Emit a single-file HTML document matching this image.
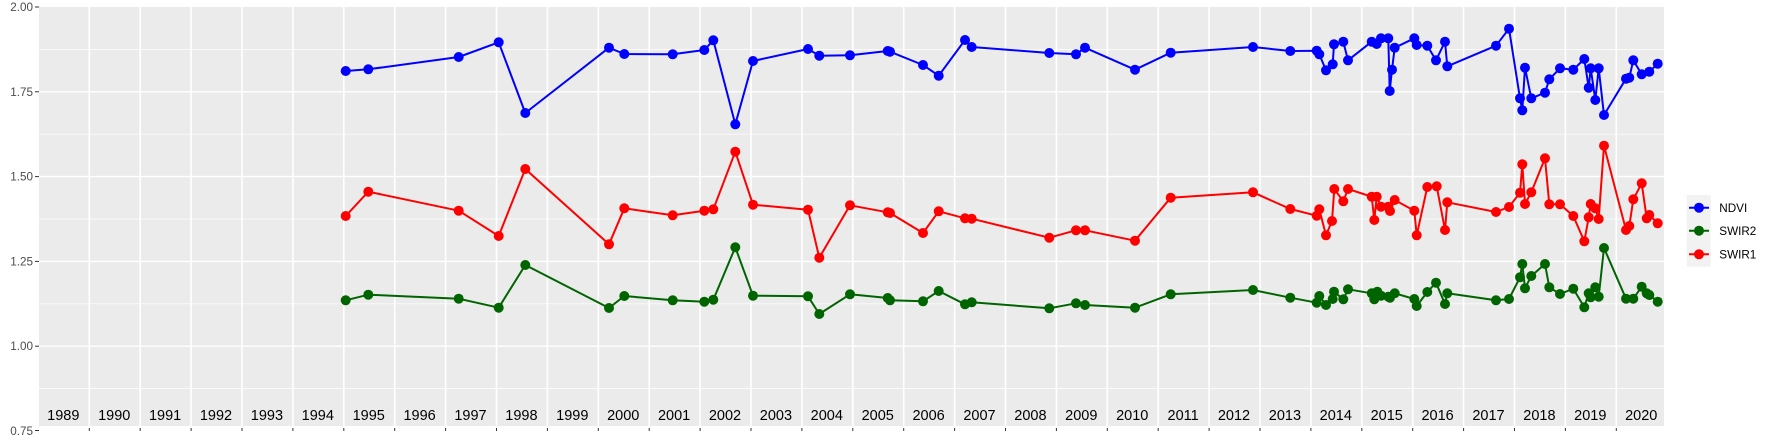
<!DOCTYPE html>
<html><head><meta charset="utf-8"><style>
html,body{margin:0;padding:0;background:#fff;}
svg{display:block;font-family:"Liberation Sans",sans-serif;}
</style></head><body>
<svg width="1773" height="442" viewBox="0 0 1773 442" xmlns="http://www.w3.org/2000/svg">
<rect x="39" y="7" width="1625" height="419" fill="#ebebeb"/>
<g stroke="#fff" stroke-width="0.7">
<line x1="39" x2="1664" y1="49.4" y2="49.4"/>
<line x1="39" x2="1664" y1="134.2" y2="134.2"/>
<line x1="39" x2="1664" y1="219" y2="219"/>
<line x1="39" x2="1664" y1="303.8" y2="303.8"/>
<line x1="39" x2="1664" y1="388.6" y2="388.6"/>
</g>
<g stroke="#fff" stroke-width="1.4">
<line x1="39" x2="1664" y1="91.8" y2="91.8"/>
<line x1="39" x2="1664" y1="176.6" y2="176.6"/>
<line x1="39" x2="1664" y1="261.4" y2="261.4"/>
<line x1="39" x2="1664" y1="346.2" y2="346.2"/>
</g>
<g id="vg" stroke="#fff" stroke-width="1.6"></g>
<g id="yl" font-size="11.7" fill="#4d4d4d" text-anchor="end">
<text x="33" y="11">2.00</text>
<text x="33" y="95.8">1.75</text>
<text x="33" y="180.6">1.50</text>
<text x="33" y="265.4">1.25</text>
<text x="33" y="350.2">1.00</text>
<text x="33" y="435">0.75</text>
</g>
<g stroke="#333" stroke-width="1">
<line x1="35" x2="39" y1="7" y2="7"/><line x1="35" x2="39" y1="91.8" y2="91.8"/><line x1="35" x2="39" y1="176.6" y2="176.6"/><line x1="35" x2="39" y1="261.4" y2="261.4"/><line x1="35" x2="39" y1="346.2" y2="346.2"/><line x1="35" x2="39" y1="430.5" y2="430.5"/>
</g>
<g id="xt" stroke="#333" stroke-width="1"></g>
<g id="yr" font-size="14.5" fill="#000" text-anchor="middle"></g>
<g id="series"></g>
<rect x="1686.7" y="195" width="24" height="71.7" fill="#f2f2f2"/>
<g stroke-width="2">
<line x1="1689" x2="1709" y1="207.7" y2="207.7" stroke="#0000ff"/>
<circle cx="1699" cy="207.7" r="5" fill="#0000ff"/>
<line x1="1689" x2="1709" y1="230.7" y2="230.7" stroke="#006400"/>
<circle cx="1699" cy="230.7" r="5" fill="#006400"/>
<line x1="1689" x2="1709" y1="254.3" y2="254.3" stroke="#ff0000"/>
<circle cx="1699" cy="254.3" r="5" fill="#ff0000"/>
</g>
<g font-size="11.7" fill="#000">
<text x="1719.3" y="211.8">NDVI</text>
<text x="1719.3" y="234.8">SWIR2</text>
<text x="1719.3" y="258.4">SWIR1</text>
</g>
</svg>
<script>
var NS="http://www.w3.org/2000/svg";
function el(p,t,a,txt){var e=document.createElementNS(NS,t);for(var k in a)e.setAttribute(k,a[k]);if(txt)e.textContent=txt;document.getElementById(p).appendChild(e);}
for(var k=0;k<=30;k++){var x=89.3+50.9*k;el("vg","line",{x1:x,x2:x,y1:7,y2:426});el("xt","line",{x1:x,x2:x,y1:428,y2:431});}
for(var k=0;k<=31;k++){var x=89.3+50.9*k-26;el("yr","text",{x:x,y:420},String(1989+k));}
var blue=[[345.7,71],[368.3,69.3],[458.7,57],[498.7,42.3],[525.3,113],[609,47.7],[624.3,54],[672.7,54.3],[704.3,50],[713.3,40.3],[735.3,124.3],[753,61],[808,49],[819.3,55.7],[850,55.3],[887.7,51],[890,51.7],[923,65],[938.7,75.7],[965,40],[971.7,47],[1049.3,53],[1076,54.3],[1085,47.7],[1135,69.7],[1170.7,52.7],[1253,47],[1290.3,51],[1316.7,50.7],[1319.3,54.3],[1326,70.3],[1332.7,64.3],[1334,44.3],[1343.3,41.7],[1348,60.3],[1371.7,41.7],[1376.7,44],[1381,38.3],[1388.3,38.3],[1389.7,91],[1392,69.7],[1394.7,47.7],[1414.3,38.3],[1416.7,45],[1427.3,45.7],[1436,60.3],[1445,41.7],[1447.3,66.3],[1496,45.7],[1509,28.7],[1520,98.3],[1522.3,110.3],[1525,67.7],[1531.3,98.3],[1545,92.7],[1549.3,79.3],[1560,68.3],[1573.3,69.7],[1584.3,59],[1588.7,87.7],[1590.7,68.3],[1595.3,100],[1598.7,68.3],[1604,115],[1626,78.7],[1629.3,77.7],[1633.3,60.3],[1641.7,74.3],[1649.3,71.7],[1657.7,63.7]];
var red=[[345.7,216],[368.3,191.7],[458.7,210.7],[498.7,236],[525.3,169],[609,244.3],[624.3,208.3],[672.7,215.3],[704.3,210.7],[713.3,209.3],[735.3,151.7],[753,204.7],[808,209.7],[819.3,257.7],[850,205.3],[887.7,212.3],[890,213],[923,233],[938.7,211.3],[965,218.3],[971.7,218.7],[1049.3,237.7],[1076,230.3],[1085,230.3],[1135,240.7],[1170.7,197.7],[1253,192.3],[1290.3,209],[1316.7,215.7],[1319.3,209.3],[1326,235.3],[1332,221],[1334.3,189],[1343.3,201.3],[1348,189],[1371.7,196.7],[1374.3,220],[1376.7,196.7],[1381,206.7],[1388.3,206.7],[1390,211],[1394.7,200],[1414.3,210.7],[1416.7,235.3],[1427.3,187],[1436.7,186.3],[1445,230],[1447.3,202.3],[1496,212],[1509,207],[1520,192.7],[1522.3,164.3],[1525,204],[1531.3,192.3],[1545,158.3],[1549.3,204.3],[1560,204.3],[1573.3,216],[1584.3,241.3],[1588.7,217.3],[1590.7,204],[1595.3,208.3],[1598.7,219],[1604,145.7],[1626,230],[1629.3,226],[1633.3,199.3],[1641.7,183.3],[1646.7,218.3],[1649.3,215],[1657.7,223.3]];
var green=[[345.7,300.3],[368.3,294.7],[458.7,298.7],[498.7,307.7],[525.3,265],[609,308],[624.3,296],[672.7,300.3],[704.3,301.7],[713.3,299.7],[735.3,247.3],[753,295.7],[808,296.3],[819.3,314],[850,294.3],[887.7,298],[890,300.3],[923,301.3],[938.7,291],[965,304.3],[971.7,302.3],[1049.3,308.3],[1076,303.3],[1085,305],[1135,307.7],[1170.7,294.3],[1253,290],[1290.3,297.7],[1316.7,302.7],[1319.3,296],[1326,305],[1332.7,299],[1334,291.7],[1343.3,299.3],[1348,289.3],[1371.7,293.3],[1374.3,299.3],[1377.3,291.7],[1381,295.7],[1388.3,296.7],[1390,297.7],[1394.7,293.3],[1414.3,299],[1416.7,306],[1427.3,292],[1436,282.7],[1445,304],[1447.3,293.3],[1496,300.3],[1509,299],[1520,277.3],[1522.3,264],[1525,288.3],[1531.3,276],[1545,264],[1549.3,287.3],[1560,294],[1573.3,288.7],[1584.3,307.3],[1588.7,293.3],[1590.7,297.3],[1595.3,287.3],[1598.7,296.7],[1604,248],[1626,298.7],[1633.3,298.7],[1641.7,286.7],[1646.7,293.3],[1649.3,295],[1657.7,301.7]];
function draw(d,c){el("series","polyline",{points:d.map(function(p){return p.join(",")}).join(" "),fill:"none",stroke:c,"stroke-width":2,"stroke-linejoin":"round"});d.forEach(function(p){el("series","circle",{cx:p[0],cy:p[1],r:5,fill:c});});}
draw(blue,"#0000ff");draw(green,"#006400");draw(red,"#ff0000");
</script>
</body></html>
